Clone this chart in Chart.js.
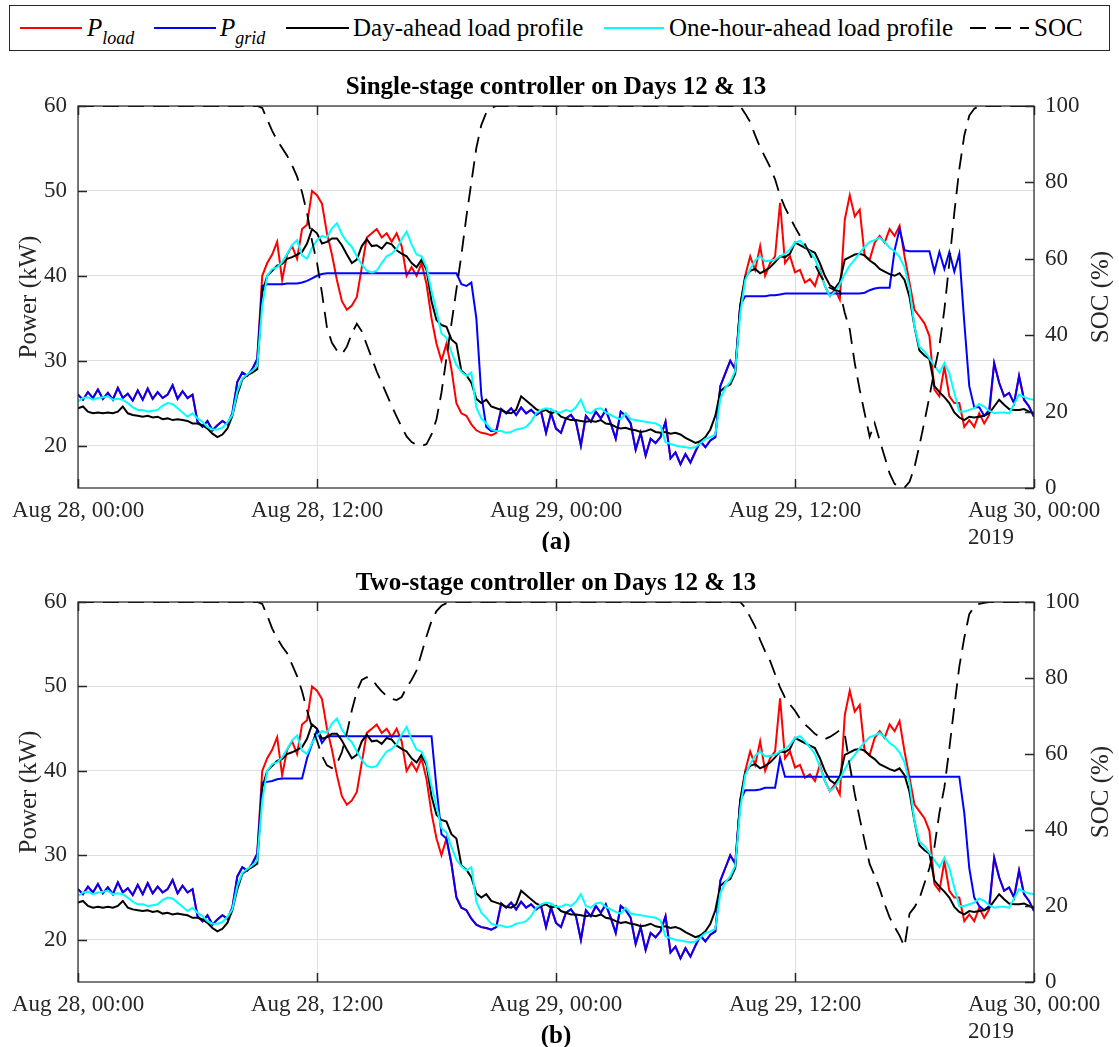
<!DOCTYPE html>
<html>
<head>
<meta charset="utf-8">
<script src="https://cdn.jsdelivr.net/npm/chart.js@4.4.0/dist/chart.umd.min.js"></script>
<style>
  body { margin: 0; width: 1119px; height: 1047px; background: #fff; position: relative; overflow: hidden; }
  canvas { position: absolute; left: 0; }
  #legend { position: absolute; left: 0; top: 0; }
  #legend text { font-family: 'Liberation Serif', 'Times New Roman', serif; font-size: 25px; fill: #000; }
</style>
</head>
<body>
<svg id="legend" width="1119" height="56">
  <rect x="9.5" y="5.5" width="1100" height="45" fill="#fff" stroke="#262626" stroke-width="1"/>
  <line x1="20" y1="28" x2="82" y2="28" stroke="#ff0000" stroke-width="2"/>
  <text x="87" y="36" font-style="italic">P<tspan font-size="18" dy="8">load</tspan></text>
  <line x1="154" y1="28" x2="216" y2="28" stroke="#0000ff" stroke-width="2"/>
  <text x="220" y="36" font-style="italic">P<tspan font-size="18" dy="8">grid</tspan></text>
  <line x1="286" y1="28" x2="349" y2="28" stroke="#000" stroke-width="2"/>
  <text x="353" y="36">Day-ahead load profile</text>
  <line x1="604" y1="28" x2="664" y2="28" stroke="#00ffff" stroke-width="2"/>
  <text x="669" y="36">One-hour-ahead load profile</text>
  <line x1="970" y1="28" x2="1029" y2="28" stroke="#000" stroke-width="2" stroke-dasharray="16 9"/>
  <text x="1034" y="36">SOC</text>
</svg>
<canvas id="panelA" width="1119" height="496" style="top:56px"></canvas>
<canvas id="panelB" width="1119" height="496" style="top:552px"></canvas>
<script>
'use strict';

// 15-minute samples, Aug 28 00:00 .. Aug 30 00:00
const STEP_H = 0.25;

const xTicks = [0, 12, 24, 36, 48];
const xLabels = ['Aug 28, 00:00', 'Aug 28, 12:00', 'Aug 29, 00:00', 'Aug 29, 12:00', 'Aug 30, 00:00'];
const powerTicks = [20, 30, 40, 50, 60];
const socTicks = [0, 20, 40, 60, 80, 100];

const loadKw = [
    26.0, 25.4, 26.3, 25.6, 26.6, 25.5, 26.2, 25.4, 26.8, 25.6, 26.1, 25.3, 26.5, 25.4, 26.7, 25.5, 26.3, 25.6, 26.0, 27.1, 25.5, 26.4, 25.6, 26.0,
    22.8, 22.2, 22.9, 21.8, 22.4, 22.9, 22.5, 23.8, 27.5, 28.6, 28.2, 29.0, 30.2, 40.0, 41.5, 42.5, 44.0, 39.5, 42.5, 43.5, 42.0, 45.5, 46.0, 50.0,
    49.5, 48.5, 45.0, 42.5, 39.5, 37.0, 36.0, 36.5, 37.5, 41.0, 44.5, 45.0, 45.5, 44.5, 45.0, 44.0, 45.0, 43.5, 40.0, 41.0, 40.0, 41.5, 39.0, 35.0,
    32.0, 30.0, 32.0, 29.0, 25.0, 23.8, 23.5, 22.5, 21.8, 21.5, 21.4, 21.2, 21.5, 24.3, 23.8, 24.4, 23.6, 24.5, 23.8, 24.2, 23.6, 24.0, 21.5, 23.8,
    22.0, 21.5, 23.2, 23.6, 22.8, 20.0, 23.5, 22.8, 24.0, 23.2, 24.2, 22.6, 20.8, 24.0, 23.5, 22.6, 19.5, 21.5, 18.8, 20.8, 20.3, 21.0, 22.8, 18.5,
    19.2, 17.8, 19.0, 18.0, 19.3, 20.5, 19.8, 20.6, 21.0, 27.0, 28.5, 30.0, 29.0, 36.5, 40.0, 42.3, 40.7, 43.5, 40.0, 41.5, 42.3, 48.6, 41.5, 42.3,
    40.4, 40.7, 39.2, 39.6, 38.8, 40.7, 38.8, 37.6, 38.4, 37.2, 46.6, 49.5, 47.0, 47.8, 42.3, 41.9, 43.9, 44.7, 43.9, 45.5, 44.7, 45.9, 42.3, 39.2,
    36.0, 35.2, 34.4, 32.9, 26.6, 25.8, 29.3, 25.8, 25.0, 25.0, 22.2, 23.0, 22.2, 23.8, 22.6, 23.6, 29.7, 27.4, 25.8, 26.2, 25.0, 28.2, 25.4, 24.6,
    23.4
];

const gridKwA = [
    26.0, 25.4, 26.3, 25.6, 26.6, 25.5, 26.2, 25.4, 26.8, 25.6, 26.1, 25.3, 26.5, 25.4, 26.7, 25.5, 26.3, 25.6, 26.0, 27.1, 25.5, 26.4, 25.6, 26.0,
    22.8, 22.2, 22.9, 21.8, 22.4, 22.9, 22.5, 23.8, 27.5, 28.6, 28.2, 29.0, 30.2, 38.8, 39.0, 39.0, 39.0, 39.0, 39.1, 39.1, 39.1, 39.2, 39.4, 39.7,
    40.0, 40.2, 40.3, 40.3, 40.3, 40.3, 40.3, 40.3, 40.3, 40.3, 40.3, 40.3, 40.3, 40.3, 40.3, 40.3, 40.3, 40.3, 40.3, 40.3, 40.3, 40.3, 40.3, 40.3,
    40.3, 40.3, 40.3, 40.3, 40.3, 39.0, 38.8, 39.2, 35.0, 26.0, 22.2, 21.7, 21.8, 24.3, 23.8, 24.4, 23.6, 24.5, 23.8, 24.2, 23.6, 24.0, 21.5, 23.8,
    22.0, 21.5, 23.2, 23.6, 22.8, 20.0, 23.5, 22.8, 24.0, 23.2, 24.2, 22.6, 20.8, 24.0, 23.5, 22.6, 19.5, 21.5, 18.8, 20.8, 20.3, 21.0, 22.8, 18.5,
    19.2, 17.8, 19.0, 18.0, 19.3, 20.5, 19.8, 20.6, 21.0, 27.0, 28.5, 30.0, 29.0, 36.5, 37.6, 37.6, 37.6, 37.6, 37.6, 37.7, 37.7, 37.8, 37.9, 37.9,
    37.9, 37.9, 37.9, 37.9, 37.9, 37.9, 37.9, 37.9, 37.9, 37.9, 37.9, 37.9, 37.9, 37.9, 38.0, 38.3, 38.5, 38.6, 38.6, 38.6, 43.0, 45.5, 43.0, 42.9,
    42.9, 42.9, 42.9, 42.9, 40.5, 42.8, 40.8, 42.8, 40.5, 42.6, 34.5, 27.0, 24.5, 24.5, 23.5, 24.2, 29.7, 27.4, 25.8, 26.2, 25.0, 28.2, 25.4, 24.6,
    23.4
];

const gridKwB = [
    26.0, 25.4, 26.3, 25.6, 26.6, 25.5, 26.2, 25.4, 26.8, 25.6, 26.1, 25.3, 26.5, 25.4, 26.7, 25.5, 26.3, 25.6, 26.0, 27.1, 25.5, 26.4, 25.6, 26.0,
    22.8, 22.2, 22.9, 21.8, 22.4, 22.9, 22.5, 23.8, 27.5, 28.6, 28.2, 29.0, 30.2, 38.6, 38.7, 38.8, 39.0, 39.1, 39.1, 39.1, 39.1, 39.1, 41.5, 43.2,
    44.8, 43.3, 44.1, 44.1, 44.1, 44.1, 44.1, 44.1, 44.1, 44.1, 44.1, 44.1, 44.1, 44.1, 44.1, 44.1, 44.1, 44.1, 44.1, 44.1, 44.1, 44.1, 44.1, 44.1,
    38.0, 32.5, 32.0, 29.0, 25.0, 23.8, 23.5, 22.5, 21.8, 21.5, 21.4, 21.2, 21.5, 24.3, 23.8, 24.4, 23.6, 24.5, 23.8, 24.2, 23.6, 24.0, 21.5, 23.8,
    22.0, 21.5, 23.2, 23.6, 22.8, 20.0, 23.5, 22.8, 24.0, 23.2, 24.2, 22.6, 20.8, 24.0, 23.5, 22.6, 19.5, 21.5, 18.8, 20.8, 20.3, 21.0, 22.8, 18.5,
    19.2, 17.8, 19.0, 18.0, 19.3, 20.5, 19.8, 20.6, 21.0, 27.0, 28.5, 30.0, 29.0, 36.5, 37.7, 37.7, 37.7, 37.8, 38.0, 38.0, 38.0, 41.5, 39.3, 39.3,
    39.3, 39.3, 39.3, 39.3, 39.3, 39.3, 39.3, 39.3, 39.3, 39.3, 39.3, 39.3, 39.3, 39.3, 39.3, 39.3, 39.3, 39.3, 39.3, 39.3, 39.3, 39.3, 39.3, 39.3,
    39.3, 39.3, 39.3, 39.3, 39.3, 39.3, 39.3, 39.3, 39.3, 39.3, 35.0, 28.5, 25.0, 24.0, 23.5, 24.0, 29.7, 27.4, 25.8, 26.2, 25.0, 28.2, 25.4, 24.6,
    23.4
];

const dayAheadKw = [
    24.4, 24.6, 24.0, 23.8, 23.9, 23.8, 23.9, 23.8, 24.0, 24.6, 23.8, 23.6, 23.5, 23.4, 23.5, 23.3, 23.4, 23.1, 23.2, 23.0, 23.1, 23.0, 22.9, 22.6,
    22.6, 22.4, 22.0, 21.4, 21.0, 21.3, 22.0, 23.5, 26.0, 27.8, 28.3, 28.6, 29.0, 38.0, 40.0, 40.6, 41.2, 41.4, 42.0, 42.2, 42.5, 42.8, 43.8, 45.5,
    45.0, 43.8, 44.0, 44.4, 44.4, 43.6, 42.5, 41.5, 41.9, 43.5, 44.3, 43.5, 43.6, 43.2, 43.9, 43.7, 43.0, 42.6, 42.3, 41.5, 41.0, 41.9, 40.7, 37.0,
    34.8, 34.2, 34.0, 32.5, 32.0, 28.8, 28.3, 27.4, 25.5, 25.0, 25.4, 24.6, 24.4, 24.2, 23.9, 23.8, 24.2, 25.8, 25.3, 24.8, 24.3, 24.0, 24.2, 23.8,
    24.0, 23.4, 23.2, 23.0, 23.0, 22.9, 22.8, 22.9, 22.8, 23.0, 22.6, 22.5, 22.2, 22.0, 22.1, 21.9, 21.8, 21.6, 21.7, 21.9, 21.6, 21.5, 21.6, 21.4,
    21.5, 21.3, 20.9, 20.6, 20.3, 20.5, 21.0, 21.9, 23.5, 26.4, 26.9, 27.2, 28.5, 36.5, 39.8, 40.6, 40.8, 40.3, 40.6, 41.0, 41.6, 42.3, 42.2, 42.6,
    43.9, 43.6, 43.3, 43.0, 42.7, 41.5, 40.0, 38.9, 38.5, 39.3, 41.9, 42.2, 42.5, 42.6, 42.4, 41.8, 41.4, 40.8, 40.5, 40.2, 40.0, 40.3, 39.5, 37.5,
    34.0, 31.2, 30.6, 30.2, 27.0, 26.3, 25.7, 25.0, 23.9, 23.3, 23.0, 23.4, 23.3, 23.4, 23.5, 23.8, 24.6, 25.4, 24.8, 24.3, 24.2, 24.2, 24.3, 24.0,
    23.8
];

const hourAheadKw = [
    25.2, 25.6, 25.7, 25.4, 25.6, 25.7, 25.8, 25.4, 25.5, 25.4, 25.0, 24.5, 24.2, 24.2, 24.0, 24.1, 24.2, 24.7, 25.0, 24.9, 24.4, 23.9, 23.4, 23.8,
    23.2, 22.8, 22.2, 21.9, 21.9, 22.1, 22.7, 23.6, 26.4, 27.9, 28.4, 28.8, 29.4, 36.5, 40.0, 40.8, 41.0, 41.6, 42.6, 43.6, 44.2, 42.4, 42.0, 43.3,
    44.2, 44.7, 44.5, 45.6, 46.2, 44.9, 44.0, 43.4, 42.3, 41.3, 40.6, 40.4, 40.6, 41.5, 42.3, 42.6, 43.2, 44.3, 45.2, 43.7, 42.5, 42.3, 41.0, 38.2,
    35.8, 33.2, 32.7, 31.0, 29.5, 28.7, 28.2, 28.6, 24.5, 23.2, 22.6, 21.9, 21.7, 21.7, 21.5, 21.6, 21.9, 22.0, 22.2, 22.8, 23.8, 24.2, 24.4, 24.3,
    23.9, 23.9, 24.2, 24.0, 24.5, 25.4, 24.0, 23.8, 24.3, 24.4, 23.9, 23.6, 23.3, 23.1, 23.8, 23.1, 23.0, 22.9, 22.8, 22.7, 22.6, 22.3, 20.4, 20.2,
    20.0, 19.9, 19.8, 19.7, 19.8, 20.3, 20.8, 21.0, 21.3, 25.5, 26.8, 27.5, 28.8, 35.5, 39.5, 40.8, 41.8, 42.3, 41.7, 41.8, 41.9, 42.3, 42.6, 43.1,
    43.9, 44.1, 43.5, 42.8, 42.0, 40.5, 38.8, 37.6, 38.1, 39.0, 40.2, 41.2, 41.9, 42.7, 43.4, 44.0, 44.2, 44.5, 44.0, 43.3, 42.9, 42.2, 41.0, 38.5,
    34.0, 31.6, 31.1, 30.3, 29.4, 28.6, 29.7, 28.5, 26.2, 24.0, 24.0, 24.2, 24.4, 24.9, 24.6, 24.1, 23.8, 23.9, 23.9, 23.8, 24.9, 26.0, 25.7, 25.5,
    25.4
];

const socPctA = [
    100, 100, 100, 100, 100, 100, 100, 100, 100, 100, 100, 100, 100, 100, 100, 100, 100, 100, 100, 100, 100, 100, 100, 100,
    100, 100, 100, 100, 100, 100, 100, 100, 100, 100, 100, 100, 100, 99.5, 96.5, 93.5, 91, 89, 87, 84.5, 81.5, 77.4, 72, 64.7,
    59, 51, 42, 38, 36, 35, 37, 40.5, 43, 41, 37.5, 34, 30.5, 27.5, 24.5, 21.5, 18.7, 16, 13.5, 12, 11.3, 11, 11.5, 14,
    18, 25, 34, 43, 52, 61, 71, 80, 89, 95, 98.3, 99.5, 100, 100, 100, 100, 100, 100, 100, 100, 100, 100, 100, 100,
    100, 100, 100, 100, 100, 100, 100, 100, 100, 100, 100, 100, 100, 100, 100, 100, 100, 100, 100, 100, 100, 100, 100, 100,
    100, 100, 100, 100, 100, 100, 100, 100, 100, 100, 100, 100, 100, 100, 98, 95.8, 92.3, 89.2, 86.6, 84, 80.8, 76.5, 73.4, 70.8,
    68.3, 66, 63.8, 61.2, 58.5, 55.9, 53.7, 52.4, 51.8, 51.5, 45.8, 41.5, 32.7, 25.7, 19.5, 13.4, 17, 12.5, 8.2, 3.8, 1.1, 0.2, 0.1, 1.6,
    5.5, 11.2, 17.4, 23.9, 30.9, 37.1, 46.7, 59, 72.1, 83.5, 92.3, 97.5, 99.3, 100, 100, 100, 100, 100, 100, 100, 100, 100, 100, 100,
    100
];

const socPctB = [
    100, 100, 100, 100, 100, 100, 100, 100, 100, 100, 100, 100, 100, 100, 100, 100, 100, 100, 100, 100, 100, 100, 100, 100,
    100, 100, 100, 100, 100, 100, 100, 100, 100, 100, 100, 100, 100, 99.5, 96.5, 93, 90.5, 88.3, 86.5, 83.5, 80.5, 76.5, 71.5, 67,
    63.5, 59.5, 57, 56.3, 57.5, 60.5, 65.5, 71.5, 76.5, 79.5, 80.2, 79.8, 78, 76.5, 75.2, 74.5, 74.2, 75, 77.5, 79.5, 82, 86.5, 91, 95,
    97.6, 99, 99.7, 100, 100, 100, 100, 100, 100, 100, 100, 100, 100, 100, 100, 100, 100, 100, 100, 100, 100, 100, 100, 100,
    100, 100, 100, 100, 100, 100, 100, 100, 100, 100, 100, 100, 100, 100, 100, 100, 100, 100, 100, 100, 100, 100, 100, 100,
    100, 100, 100, 100, 100, 100, 100, 100, 100, 100, 100, 100, 100, 100, 98.5, 96, 93.5, 90, 87, 84.5, 81, 77.5, 74.8, 73,
    71.4, 69.3, 67.8, 66.6, 65.3, 64.5, 63.9, 64.5, 65.3, 66.3, 65.2, 57, 49.5, 43, 37, 31, 28, 24.5, 20.5, 17, 14.5, 12.2, 9.3, 18,
    19.7, 22, 26, 30, 35.5, 44.5, 51.2, 61.5, 72.5, 83, 90.6, 96.8, 98.8, 99.5, 99.8, 100, 100, 100, 100, 100, 100, 100, 100, 100,
    100
];

const FONT = "'Liberation Serif', 'Times New Roman', serif";
const INK = '#262626';
const GRID = '#dfdfdf';

const toPoints = (vals) => vals.map((v, i) => ({ x: i * STEP_H, y: v }));
const fixTicks = (values) => (scale) => {
    scale.ticks = values.map((v) => ({ value: v }));
};

// box, inward tick marks, axis titles and the caption under each panel
const framePlugin = {
    id: 'frame',
    afterDraw(chart, args, opts) {
        const { ctx, chartArea: a, scales } = chart;
        ctx.save();
        ctx.strokeStyle = INK;
        ctx.lineWidth = 1.2;
        ctx.strokeRect(a.left, a.top, a.right - a.left, a.bottom - a.top);

        ctx.beginPath();
        xTicks.forEach((v) => {
            const x = Math.round(scales.x.getPixelForValue(v)) + 0.5;
            ctx.moveTo(x, a.bottom);
            ctx.lineTo(x, a.bottom - 9);
            ctx.moveTo(x, a.top);
            ctx.lineTo(x, a.top + 9);
        });
        powerTicks.forEach((v) => {
            const y = Math.round(scales.y.getPixelForValue(v)) + 0.5;
            ctx.moveTo(a.left, y);
            ctx.lineTo(a.left + 9, y);
        });
        socTicks.forEach((v) => {
            const y = Math.round(scales.soc.getPixelForValue(v)) + 0.5;
            ctx.moveTo(a.right, y);
            ctx.lineTo(a.right - 9, y);
        });
        ctx.lineWidth = 1.5;
        ctx.stroke();

        const midY = (a.top + a.bottom) / 2;
        ctx.fillStyle = INK;
        ctx.textAlign = 'center';
        ctx.textBaseline = 'middle';
        ctx.font = '25px ' + FONT;
        ctx.save();
        ctx.translate(29, midY);
        ctx.rotate(-Math.PI / 2);
        ctx.fillText('Power (kW)', 0, 0);
        ctx.restore();
        ctx.save();
        ctx.translate(1101, midY);
        ctx.rotate(-Math.PI / 2);
        ctx.fillText('SOC (%)', 0, 0);
        ctx.restore();

        ctx.fillStyle = '#000';
        ctx.font = 'bold 25px ' + FONT;
        ctx.fillText(opts.caption, (a.left + a.right) / 2, a.bottom + 55);

        // year goes under the last date label, flush with its left edge
        ctx.fillStyle = INK;
        ctx.font = '23px ' + FONT;
        ctx.textAlign = 'left';
        const lastX = scales.x.getPixelForValue(xTicks[xTicks.length - 1]);
        const w = ctx.measureText(xLabels[xLabels.length - 1]).width;
        ctx.fillText('2019', lastX - w / 2, a.bottom + 50);
        ctx.restore();
    },
};

function makePanel(canvasId, title, caption, gridKw, socPct, xAxisHeight) {
    return new Chart(document.getElementById(canvasId), {
        type: 'line',
        data: {
            datasets: [
                {
                    label: 'SOC',
                    data: toPoints(socPct),
                    yAxisID: 'soc',
                    borderColor: '#000',
                    borderWidth: 1.8,
                    borderDash: [16, 9],
                    order: 1,
                },
                {
                    label: 'One-hour-ahead load profile',
                    data: toPoints(hourAheadKw),
                    yAxisID: 'y',
                    borderColor: '#00ffff',
                    borderWidth: 2,
                    order: 2,
                },
                {
                    label: 'Day-ahead load profile',
                    data: toPoints(dayAheadKw),
                    yAxisID: 'y',
                    borderColor: '#000',
                    borderWidth: 2,
                    order: 3,
                },
                {
                    label: 'P_grid',
                    data: toPoints(gridKw),
                    yAxisID: 'y',
                    borderColor: '#0000ff',
                    borderWidth: 2,
                    order: 4,
                },
                {
                    label: 'P_load',
                    data: toPoints(loadKw),
                    yAxisID: 'y',
                    borderColor: '#ff0000',
                    borderWidth: 2,
                    order: 5,
                },
            ],
        },
        options: {
            responsive: false,
            animation: false,
            devicePixelRatio: 1,
            layout: { padding: 0 },
            elements: {
                point: { radius: 0 },
                line: { tension: 0 },
            },
            plugins: {
                legend: { display: false },
                tooltip: { enabled: false },
                title: {
                    display: true,
                    fullSize: false,
                    text: title,
                    color: '#000',
                    font: { family: FONT, size: 25, weight: 'bold', lineHeight: 1.2 },
                    padding: { top: 17, bottom: 3 },
                },
                frame: { caption: caption },
            },
            scales: {
                x: {
                    type: 'linear',
                    min: 0,
                    max: 48,
                    afterBuildTicks: fixTicks(xTicks),
                    afterFit: (scale) => { scale.height = xAxisHeight; },
                    grid: { color: GRID, lineWidth: 1, drawTicks: false },
                    border: { display: false },
                    ticks: {
                        autoSkip: false,
                        maxRotation: 0,
                        padding: 9,
                        color: INK,
                        font: { family: FONT, size: 23 },
                        callback: (v) => xLabels[xTicks.indexOf(v)],
                    },
                },
                y: {
                    position: 'left',
                    min: 15,
                    max: 60,
                    afterBuildTicks: fixTicks(powerTicks),
                    afterFit: (scale) => { scale.width = 78; },
                    grid: { color: GRID, lineWidth: 1, drawTicks: false },
                    border: { display: false },
                    ticks: { padding: 11, color: INK, font: { family: FONT, size: 23 } },
                },
                soc: {
                    position: 'right',
                    min: 0,
                    max: 100,
                    afterBuildTicks: fixTicks(socTicks),
                    afterFit: (scale) => { scale.width = 85; },
                    grid: { display: false, drawTicks: false },
                    border: { display: false },
                    ticks: { padding: 11, color: INK, font: { family: FONT, size: 23 } },
                },
            },
        },
        plugins: [framePlugin],
    });
}

makePanel('panelA', 'Single-stage controller on Days 12 & 13', '(a)', gridKwA, socPctA, 64);
makePanel('panelB', 'Two-stage controller on Days 12 & 13', '(b)', gridKwB, socPctB, 66);
</script>
</body>
</html>
